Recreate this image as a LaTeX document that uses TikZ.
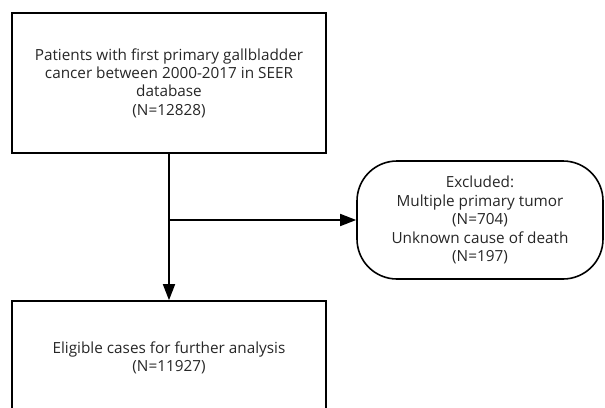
\documentclass[tikz,border=0pt]{standalone}
\usepackage{fontspec}
\setmainfont{Open Sans}
\usetikzlibrary{arrows.meta}

\begin{document}
\begin{tikzpicture}[x=1pt,y=-1pt]
    \tikzstyle{stage}=[draw=black,line width=1.6pt,align=center,inner sep=0pt,
      font=\fontsize{15.3}{18.4}\selectfont,text=black!85]
    \tikzstyle{flow}=[draw=black,line width=1.6pt,-{Triangle[length=16pt,width=12pt]}]
    \clip (0,0) rectangle (605,407);
    \node[stage,minimum width=314pt,minimum height=140pt] (cohort) at (169,83)
      {Patients with first primary gallbladder\\cancer between 2000-2017 in SEER\\database\\(N=12828)};
    \node[stage,minimum width=246pt,minimum height=118pt,rounded corners=40pt] (excl) at (480,220)
      {Excluded:\\Multiple primary tumor\\(N=704)\\Unknown cause of death\\(N=197)};
    \node[stage,minimum width=314pt,minimum height=114pt] (final) at (169,358)
      {Eligible cases for further analysis\\(N=11927)};
    \coordinate (split) at (cohort.south |- excl.west);
    \draw[flow] (cohort.south) -- (final.north);
    \draw[flow] (split) -- (excl.west);
\end{tikzpicture}
\end{document}
